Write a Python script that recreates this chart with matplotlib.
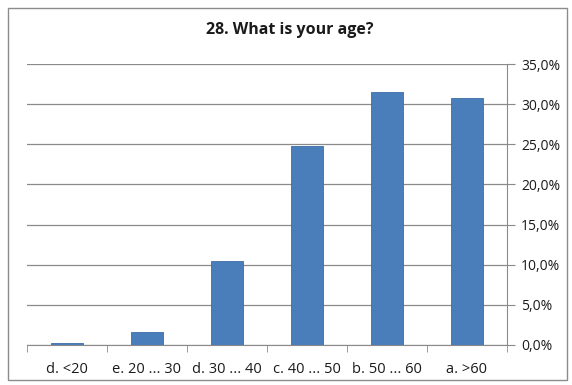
import matplotlib
matplotlib.use("Agg")
import matplotlib.pyplot as plt
from matplotlib.patches import Rectangle
from matplotlib.ticker import FixedLocator, FuncFormatter

categories = ["d. <20", "e. 20 ... 30", "d. 30 ... 40", "c. 40 ... 50", "b. 50 ... 60", "a. >60"]
shares = [0.3, 1.6, 10.5, 24.8, 31.5, 30.8]
y_ticks = [0, 5, 10, 15, 20, 25, 30, 35]
title = "28. What is your age?"

W, H = 572, 385
fig = plt.figure(figsize=(W / 100, H / 100), dpi=100)
fig.patch.set_facecolor("white")

# outer chart border
fig.patches.append(Rectangle((8 / W, 1 - 380 / H), (567 - 8) / W, (380 - 8) / H,
                             transform=fig.transFigure, fill=False,
                             edgecolor="#8c8c8c", linewidth=1.0))

ax = fig.add_axes([27 / W, 1 - 345 / H, (507 - 27) / W, (345 - 64) / H])
x = list(range(len(categories)))
ax.bar(x, shares, width=0.4, color="#4a7ebb", edgecolor="#3d6ca3", linewidth=0.6, zorder=3)

ax.set_xlim(-0.5, len(categories) - 0.5)
ax.set_ylim(0, 35)
ax.yaxis.tick_right()
ax.set_yticks(y_ticks)
ax.yaxis.set_major_formatter(FuncFormatter(lambda v, p: f"{v:.1f}%".replace(".", ",")))
ax.grid(axis="y", color="#8a8a8a", linewidth=0.9, zorder=0)

ax.set_xticks(x)
ax.set_xticklabels(categories)
ax.xaxis.set_minor_locator(FixedLocator([i - 0.5 for i in range(len(categories) + 1)]))
ax.tick_params(axis="x", which="major", length=0, pad=12, labelsize=10.5, labelcolor="#1a1a1a")
ax.tick_params(axis="x", which="minor", length=5, color="#8a8a8a", direction="out")
ax.tick_params(axis="y", length=6, color="#8a8a8a", pad=4, labelsize=10, labelcolor="#1a1a1a")

for side in ("top", "left"):
    ax.spines[side].set_visible(False)
ax.spines["bottom"].set_color("#8a8a8a")
ax.spines["right"].set_color("#8a8a8a")

for lab in ax.get_xticklabels() + ax.get_yticklabels():
    lab.set_fontfamily("Open Sans")

fig.text(290 / W, 1 - 30 / H, title, ha="center", va="center",
         fontsize=11.5, fontweight="bold", fontfamily="Open Sans", color="#1a1a1a")

fig.savefig("out.png", dpi=100)
